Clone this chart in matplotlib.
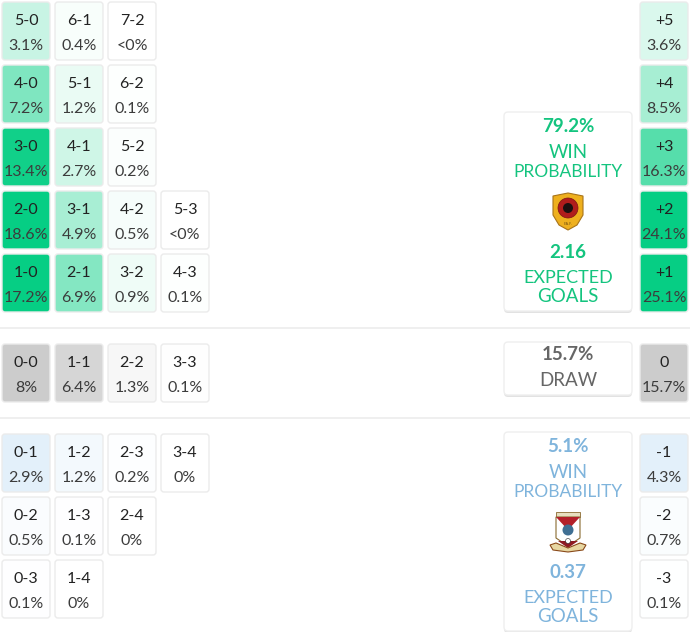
import matplotlib
matplotlib.use("Agg")
import matplotlib.pyplot as plt
from matplotlib.patches import FancyBboxPatch, Polygon, Circle, Rectangle
from matplotlib.colors import to_rgb

FONT = ["Lato", "DejaVu Sans"]
GREEN = "#06ce84"
GREY = "#cccccc"
BLUE = "#e3f0fa"

# score grids, top row first
home_scores = [["5-0", "6-1", "7-2"], ["4-0", "5-1", "6-2"], ["3-0", "4-1", "5-2"],
               ["2-0", "3-1", "4-2", "5-3"], ["1-0", "2-1", "3-2", "4-3"]]
home_probs = [["3.1%", "0.4%", "<0%"], ["7.2%", "1.2%", "0.1%"], ["13.4%", "2.7%", "0.2%"],
              ["18.6%", "4.9%", "0.5%", "<0%"], ["17.2%", "6.9%", "0.9%", "0.1%"]]
draw_scores = [["0-0", "1-1", "2-2", "3-3"]]
draw_probs = [["8%", "6.4%", "1.3%", "0.1%"]]
away_scores = [["0-1", "1-2", "2-3", "3-4"], ["0-2", "1-3", "2-4"], ["0-3", "1-4"]]
away_probs = [["2.9%", "1.2%", "0.2%", "0%"], ["0.5%", "0.1%", "0%"], ["0.1%", "0%"]]

# goal margin column
home_margins = ["+5", "+4", "+3", "+2", "+1"]
home_margin_probs = ["3.6%", "8.5%", "16.3%", "24.1%", "25.1%"]
draw_margins = ["0"]
draw_margin_probs = ["15.7%"]
away_margins = ["-1", "-2", "-3"]
away_margin_probs = ["4.3%", "0.7%", "0.1%"]

home_win, draw_prob, away_win = "79.2%", "15.7%", "5.1%"
home_xg, away_xg = "2.16", "0.37"

fig = plt.figure(figsize=(6.9, 6.32), dpi=100)
ax = fig.add_axes([0, 0, 1, 1])
ax.set_xlim(0, 690)
ax.set_ylim(632, 0)
ax.axis("off")


def shade(color, v, scale):
    a = min(v / scale, 1.0)
    c = to_rgb(color)
    return tuple(1 - a * (1 - x) for x in c)


def cell(x, y, top, bottom, color, scale, w=48, h=58):
    v = float(bottom.strip("<%"))
    ax.add_patch(FancyBboxPatch((x + 2, y + 2), w - 4, h - 4, boxstyle="round,pad=2,rounding_size=3",
                                fc=shade(color, v, scale), ec="#ebebeb", lw=1))
    ax.text(x + w / 2, y + 19, top, ha="center", va="center", fontsize=11.5, color="#222", family=FONT)
    ax.text(x + w / 2, y + 44, bottom, ha="center", va="center", fontsize=11.5, color="#3c3c3c", family=FONT)


def grid(scores, probs, y0, color, scale):
    for r, row in enumerate(scores):
        for c, s in enumerate(row):
            cell(2 + 53 * c, y0 + 63 * r, s, probs[r][c], color, scale)


def column(labels, probs, y0, color, scale):
    for r, s in enumerate(labels):
        cell(640, y0 + 63 * r, s, probs[r], color, scale)


def card(y, h):
    ax.add_patch(FancyBboxPatch((507, y + 3), 122, h - 4, boxstyle="round,pad=3,rounding_size=4",
                                fc="#d0d0d0", ec="none", alpha=0.6))
    ax.add_patch(FancyBboxPatch((507, y + 3), 122, h - 6, boxstyle="round,pad=3,rounding_size=4",
                                fc="white", ec="#efefef", lw=1))


def team_card(y, win, xg, color):
    card(y, 199)
    ax.text(568, y + 14, win, ha="center", va="center", fontsize=13.5, fontweight="bold", color=color, family=FONT)
    ax.text(568, y + 41, "WIN", ha="center", va="center", fontsize=13.5, color=color, family=FONT)
    ax.text(568, y + 60, "PROBABILITY", ha="center", va="center", fontsize=12.5, color=color, family=FONT)
    ax.text(568, y + 140, xg, ha="center", va="center", fontsize=13.5, fontweight="bold", color=color, family=FONT)
    ax.text(568, y + 166, "EXPECTED", ha="center", va="center", fontsize=13, color=color, family=FONT)
    ax.text(568, y + 185, "GOALS", ha="center", va="center", fontsize=13.5, color=color, family=FONT)


grid(home_scores, home_probs, 2, GREEN, 14)
grid(draw_scores, draw_probs, 344, GREY, 8)
grid(away_scores, away_probs, 434, BLUE, 2.9)
column(home_margins, home_margin_probs, 2, GREEN, 24)
column(draw_margins, draw_margin_probs, 344, GREY, 15.7)
column(away_margins, away_margin_probs, 434, BLUE, 4.3)

ax.plot([0, 690], [327.5, 327.5], color="#ececec", lw=1.2)
ax.plot([0, 690], [417.5, 417.5], color="#ececec", lw=1.2)

team_card(112, home_win, home_xg, "#14c47f")
team_card(432, away_win, away_xg, "#7fb4dc")

card(342, 53)
ax.text(568, 355, draw_prob, ha="center", va="center", fontsize=13.5, fontweight="bold", color="#666", family=FONT)
ax.text(568, 381, "DRAW", ha="center", va="center", fontsize=13.5, color="#666", family=FONT)

# home crest
ax.add_patch(Polygon([(553, 196), (568, 193), (583, 196), (583, 215), (577, 225), (568, 230), (559, 225), (553, 215)],
                     fc="#eeb01e", ec="#a8741a", lw=0.8))
ax.add_patch(Circle((568, 208), 10, fc="#b01c1c", ec="#7d1414", lw=0.5))
ax.add_patch(Circle((568, 208), 5, fc="#1c1010", ec="none"))
ax.text(568, 224, "F.A.F.", ha="center", va="center", fontsize=2.5, color="#6b4a10")

# away crest
ax.add_patch(Rectangle((556, 512), 24, 5, fc="#e8dfc0", ec="#8a6a30", lw=0.6))
ax.add_patch(Polygon([(556, 517), (580, 517), (580, 538), (568, 546), (556, 538)], fc="white", ec="#8a6a30", lw=0.8))
ax.add_patch(Polygon([(556, 517), (580, 517), (568, 530)], fc="#b3202a", ec="none"))
ax.add_patch(Circle((568, 530), 5.5, fc="#3f6f93", ec="none"))
ax.add_patch(Polygon([(558, 541), (578, 541), (568, 548)], fc="#8e1a22", ec="none"))
ax.add_patch(Circle((568, 541), 2.5, fc="white", ec="#222", lw=0.4))
ax.add_patch(Polygon([(550, 545), (556, 543), (568, 548), (580, 543), (586, 545), (583, 550), (568, 552), (553, 550)],
                     fc="#e7d7a2", ec="#8a4a1a", lw=0.8))

plt.savefig("out.png", dpi=100)
